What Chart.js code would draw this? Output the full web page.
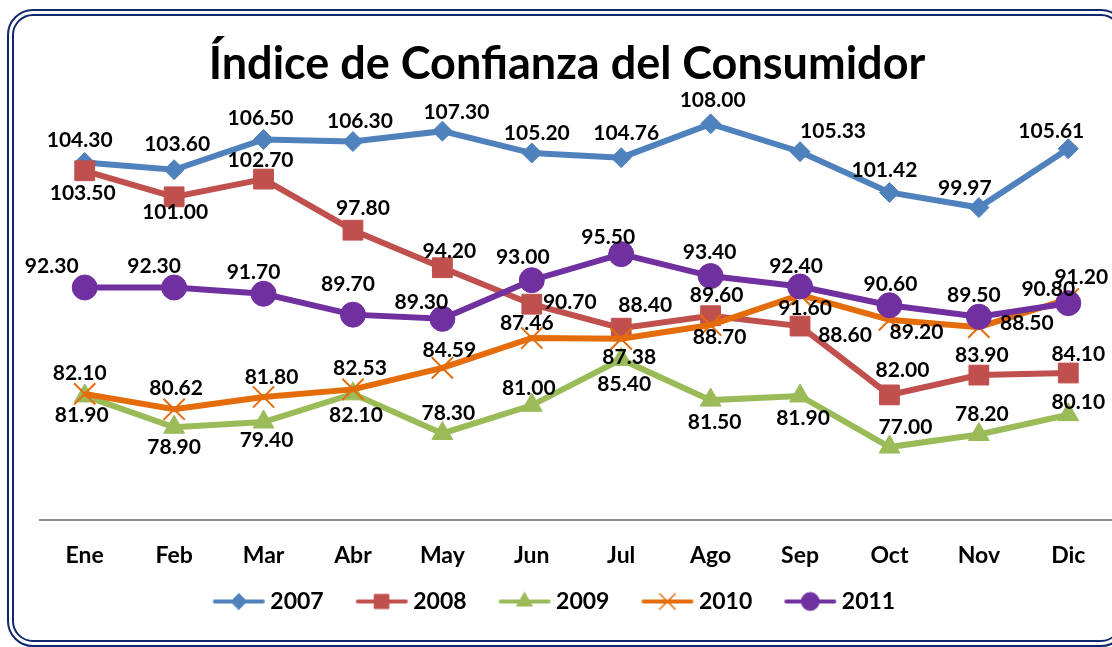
<!DOCTYPE html>
<html>
<head>
<meta charset="utf-8">
<script src="https://cdn.jsdelivr.net/npm/chart.js@4.4.1/dist/chart.umd.min.js"></script>
<style>
  html, body { margin: 0; padding: 0; overflow: hidden; background: #fff; }
  #chart { position: absolute; left: 0; top: 0; }
  #frame {
    position: absolute; left: 7px; top: 9px; width: 1120px; height: 638px;
    box-sizing: border-box; border: 7px double #10296b; border-radius: 26px;
    pointer-events: none;
  }
</style>
</head>
<body>
<canvas id="chart" width="1130" height="647"></canvas>
<div id="frame"></div>
<script>
// Índice de Confianza del Consumidor
// -----------------------------------

var months = ['Ene', 'Feb', 'Mar', 'Abr', 'May', 'Jun', 'Jul', 'Ago', 'Sep', 'Oct', 'Nov', 'Dic'];
var years = ['2007', '2008', '2009', '2010', '2011'];

var v2007 = [104.30, 103.60, 106.50, 106.30, 107.30, 105.20, 104.76, 108.00, 105.33, 101.42, 99.97, 105.61];
var v2008 = [103.50, 101.00, 102.70, 97.80, 94.20, 90.70, 88.40, 89.60, 88.60, 82.00, 83.90, 84.10];
var v2009 = [81.90, 78.90, 79.40, 82.10, 78.30, 81.00, 85.40, 81.50, 81.90, 77.00, 78.20, 80.10];
var v2010 = [82.10, 80.62, 81.80, 82.53, 84.59, 87.46, 87.38, 88.70, 91.60, 89.20, 88.50, 91.20];
var v2011 = [92.30, 92.30, 91.70, 89.70, 89.30, 93.00, 95.50, 93.40, 92.40, 90.60, 89.50, 90.80];

// where each value label sits relative to its point (dx, dy)
var shift2007 = [[-5,-22],[3,-25],[-3,-21],[7,-20],[14,-19],[5,-20],[5,-24],[2,-24],[33,-20],[-5,-22],[-14,-19],[-17,-18]];
var shift2008 = [[-2,22],[1,15],[-3,-19],[10,-22],[7,-16],[38,-2],[24,-23],[6,-20],[45,9],[13,-25],[3,-20],[10,-19]];
var shift2009 = [[-3,19],[0,20],[3,18],[3,21],[6,-20],[-3,-17],[3,25],[4,22],[3,22],[16,-20],[3,-20],[10,-12]];
var shift2010 = [[-5,-21],[2,-21],[8,-20],[7,-21],[7,-18],[-5,-15],[8,18],[9,12],[5,13],[27,12],[48,-4],[13,-22]];
var shift2011 = [[-33,-21],[-20,-21],[-10,-22],[-5,-30],[-21,-17],[-9,-23],[-13,-17],[-1,-24],[-4,-20],[1,-21],[-5,-21],[-20,-14]];

var FONT = 'Lato, "Open Sans", sans-serif';

function series(i, data, color, style, radius, shifts) {
    return {
        label: years[i],
        data: data,
        borderColor: color,
        backgroundColor: color,
        borderWidth: 6,
        tension: 0,
        pointStyle: style,
        pointRadius: radius,
        pointHoverRadius: radius,
        pointBorderWidth: style === 'crossRot' ? 2 : 1,
        pointBackgroundColor: color,
        pointBorderColor: color,
        order: 5 - i,
        labelShifts: shifts
    };
}

function legendIcon(color, style, radius, bw) {
    var c = document.createElement('canvas');
    c.width = 54;
    c.height = 24;
    var g = c.getContext('2d');
    g.strokeStyle = color;
    g.fillStyle = color;
    g.lineWidth = 4;
    g.lineCap = 'round';
    g.beginPath();
    g.moveTo(3, 12);
    g.lineTo(51, 12);
    g.stroke();
    g.lineWidth = bw;
    Chart.helpers.drawPoint(g, { pointStyle: style, radius: radius, borderWidth: bw, rotation: 0 }, 27, 12);
    return c;
}

var datasets = [
    series(0, v2007, '#4f81bd', 'rectRot', 10, shift2007),
    series(1, v2008, '#c0504d', 'rect', 14, shift2008),
    series(2, v2009, '#9bbb59', 'triangle', 12, shift2009),
    series(3, v2010, '#e46c0a', 'crossRot', 15, shift2010),
    series(4, v2011, '#7030a0', 'circle', 12.5, shift2011)
];

var icons = [
    legendIcon('#4f81bd', 'rectRot', 8, 1),
    legendIcon('#c0504d', 'rect', 10, 1),
    legendIcon('#9bbb59', 'triangle', 9, 1),
    legendIcon('#e46c0a', 'crossRot', 11, 1.5),
    legendIcon('#7030a0', 'circle', 9, 1)
];

// value labels drawn over every point
var valueLabels = {
    id: 'valueLabels',
    afterDatasetsDraw: function(chart) {
        var ctx = chart.ctx;
        ctx.save();
        ctx.font = 'bold 21px ' + FONT;
        ctx.fillStyle = '#000';
        ctx.textAlign = 'center';
        ctx.textBaseline = 'middle';
        chart.data.datasets.forEach(function(ds, i) {
            chart.getDatasetMeta(i).data.forEach(function(pt, j) {
                var s = ds.labelShifts[j];
                ctx.fillText(ds.data[j].toFixed(2), pt.x + s[0], pt.y + s[1]);
            });
        });
        ctx.restore();
    }
};

// the legend sits a little left of and above where Chart.js puts it
var legendNudge = {
    id: 'legendNudge',
    afterLayout: function(chart) {
        var l = chart.legend;
        l.left -= 10; l.right -= 10;
        l.top -= 18; l.bottom -= 18;
    }
};

var ctx = document.getElementById('chart').getContext('2d');
var chart = new Chart(ctx, {
    type: 'line',
    data: { labels: months, datasets: datasets },
    plugins: [valueLabels, legendNudge],
    options: {
        responsive: false,
        animation: false,
        events: [],
        layout: { padding: { top: 0, left: 12, right: 8, bottom: 6 } },
        scales: {
            x: {
                offset: true,
                grid: { display: false, drawTicks: false },
                border: { display: true, color: '#8c8c8c', width: 2 },
                ticks: { color: '#000', padding: 22, font: { family: FONT, size: 23, weight: 'bold' } },
                afterFit: function(s) { s.height = 50; }
            },
            y: {
                min: 70,
                max: 110,
                ticks: { display: false },
                grid: { display: false, drawTicks: false },
                border: { display: false },
                afterFit: function(s) { s.width = 28; }
            }
        },
        plugins: {
            tooltip: { enabled: false },
            title: {
                display: true,
                text: 'Índice de Confianza del Consumidor',
                color: '#000',
                font: { family: FONT, size: 45, weight: 'bold', lineHeight: 1.2 },
                padding: { top: 37, bottom: 12 }
            },
            legend: {
                position: 'bottom',
                labels: {
                    usePointStyle: true,
                    pointStyleWidth: 40,
                    padding: 38,
                    color: '#000',
                    font: { family: FONT, size: 23, weight: 'bold' },
                    generateLabels: function(c) {
                        var items = Chart.defaults.plugins.legend.labels.generateLabels(c);
                        items.sort(function(a, b) { return a.datasetIndex - b.datasetIndex; });
                        items.forEach(function(it) { it.pointStyle = icons[it.datasetIndex]; });
                        return items;
                    }
                }
            }
        }
    }
});
</script>
</body>
</html>
